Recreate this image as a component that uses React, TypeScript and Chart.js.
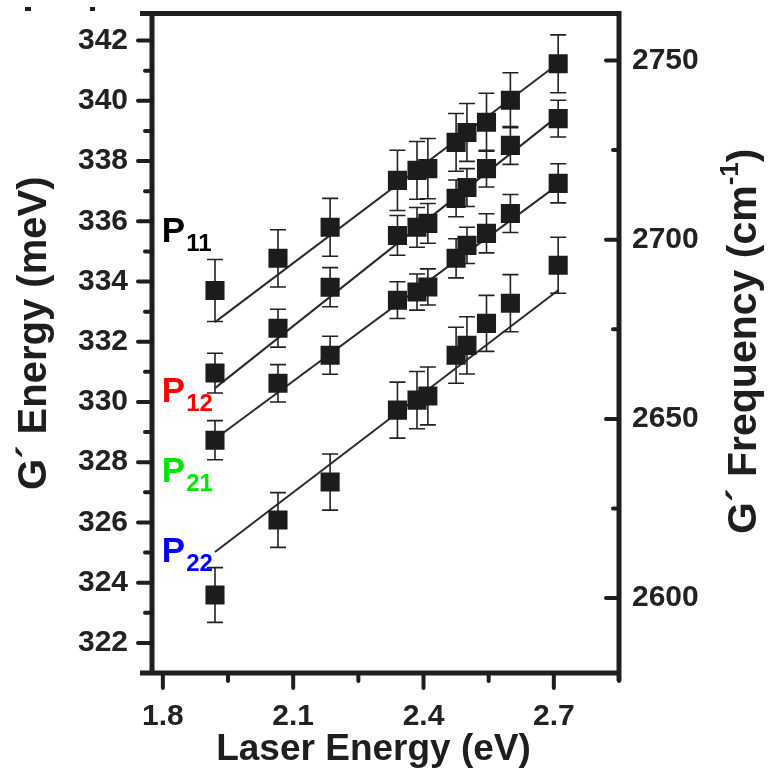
import { useEffect, useRef } from 'react';
import { Chart, registerables } from 'chart.js';

Chart.register(...registerables);

// ---- data ----
const laserEnergy = [1.92, 2.065, 2.185, 2.34, 2.385, 2.41, 2.475, 2.5, 2.545, 2.6, 2.71];

const p11 = [333.7, 334.77, 335.8, 337.36, 337.69, 337.75, 338.62, 338.95, 339.29, 340.02, 341.23];
const p11Err = [1.03, 0.95, 0.96, 1.0, 0.96, 1.0, 0.96, 0.96, 0.96, 0.91, 0.96];
const p12 = [330.96, 332.45, 333.81, 335.53, 335.8, 335.93, 336.76, 337.12, 337.75, 338.52, 339.41];
const p12Err = [0.66, 0.63, 0.65, 0.66, 0.66, 0.66, 0.61, 0.63, 0.61, 0.63, 0.61];
const p21 = [328.73, 330.62, 331.55, 333.38, 333.65, 333.82, 334.77, 335.2, 335.6, 336.26, 337.26];
const p21Err = [0.65, 0.62, 0.63, 0.61, 0.6, 0.6, 0.65, 0.6, 0.65, 0.63, 0.65];
const p22 = [323.59, 326.08, 327.34, 329.73, 330.06, 330.2, 331.55, 331.88, 332.61, 333.28, 334.54];
const p22Err = [0.91, 0.91, 0.93, 0.93, 0.95, 0.96, 0.93, 0.95, 0.93, 0.95, 0.93];

const fitX = [1.92, 2.71];
const fitP11 = [332.65, 341.25];
const fitP12 = [330.46, 339.5];
const fitP21 = [328.77, 337.2];
const fitP22 = [325.02, 333.71];

const xTicks = [1.8, 2.1, 2.4, 2.7];
const xMinorTicks = [1.95, 2.25, 2.55, 2.85];
const yTicks = [322, 324, 326, 328, 330, 332, 334, 336, 338, 340, 342];
const yMinorTicks = [323, 325, 327, 329, 331, 333, 335, 337, 339, 341];
const freqTicks = [2600, 2650, 2700, 2750];
const freqMinorTicks = [2625, 2675, 2725];

const seriesSubscripts = ['11', '12', '21', '22'];
const seriesLabelColors = ['#000000', '#ff0000', '#00e600', '#0000ff'];
const seriesLabelY = [335.3, 330.0, 327.34, 324.69];
const seriesLabelX = 1.8;

const xTitle = 'Laser Energy (eV)';
const yTitle = 'G\u00B4 Energy (meV)';
const y2TitleMain = 'G\u00B4 Frequency (cm';
const y2TitleSup = '-1';
const y2TitleEnd = ')';

const allSeries = [p11, p12, p21, p22];
const allErrors = [p11Err, p12Err, p21Err, p22Err];
const allFits = [fitP11, fitP12, fitP21, fitP22];

const FONT = "'Liberation Sans', Arial, Helvetica, sans-serif";
const INK = '#1e1e1e';

const decorPlugin = {
  id: 'decor',
  beforeDatasetsDraw(chart: any) {
    const ctx = chart.ctx;
    const xs = chart.scales.x;
    const ys = chart.scales.y;
    ctx.save();
    ctx.strokeStyle = '#222';
    ctx.lineWidth = 1.6;
    allSeries.forEach((s, i) => {
      s.forEach((v, j) => {
        const px = xs.getPixelForValue(laserEnergy[j]);
        const e = allErrors[i][j];
        const top = ys.getPixelForValue(v + e);
        const bot = ys.getPixelForValue(v - e);
        ctx.beginPath();
        ctx.moveTo(px, top);
        ctx.lineTo(px, bot);
        ctx.moveTo(px - 8, top);
        ctx.lineTo(px + 8, top);
        ctx.moveTo(px - 8, bot);
        ctx.lineTo(px + 8, bot);
        ctx.stroke();
      });
    });
    ctx.restore();
  },
  afterDraw(chart: any) {
    const ctx = chart.ctx;
    const { left, right, top, bottom } = chart.chartArea;
    const xs = chart.scales.x;
    const ys = chart.scales.y;
    const y2 = chart.scales.y2;
    ctx.save();
    ctx.strokeStyle = INK;
    ctx.fillStyle = INK;
    // frame
    ctx.lineWidth = 5;
    ctx.lineCap = 'butt';
    ctx.beginPath();
    ctx.moveTo(left - 12, top);
    ctx.lineTo(right + 2.5, top);
    ctx.moveTo(left, top - 2.5);
    ctx.lineTo(left, bottom + 2.5);
    ctx.moveTo(left - 12, bottom);
    ctx.lineTo(right + 2.5, bottom);
    ctx.moveTo(right, top - 2.5);
    ctx.lineTo(right, bottom + 8);
    ctx.stroke();
    // ticks
    ctx.lineWidth = 4;
    ctx.lineCap = 'round';
    ctx.beginPath();
    yTicks.forEach((v) => {
      const p = ys.getPixelForValue(v);
      ctx.moveTo(left, p);
      ctx.lineTo(left - 14, p);
    });
    yMinorTicks.forEach((v) => {
      const p = ys.getPixelForValue(v);
      ctx.moveTo(left, p);
      ctx.lineTo(left - 7, p);
    });
    xTicks.forEach((v) => {
      const p = xs.getPixelForValue(v);
      ctx.moveTo(p, bottom);
      ctx.lineTo(p, bottom + 15);
    });
    xMinorTicks.forEach((v) => {
      const p = xs.getPixelForValue(v);
      ctx.moveTo(p, bottom);
      ctx.lineTo(p, bottom + 8);
    });
    freqTicks.forEach((v) => {
      const p = y2.getPixelForValue(v);
      ctx.moveTo(right, p);
      ctx.lineTo(right - 13, p);
    });
    freqMinorTicks.forEach((v) => {
      const p = y2.getPixelForValue(v);
      ctx.moveTo(right, p);
      ctx.lineTo(right - 6, p);
    });
    ctx.stroke();

    // small marks in top-left corner
    ctx.fillRect(25, 7, 6, 4);
    ctx.fillRect(90, 7, 5, 4);

    // series labels
    seriesSubscripts.forEach((sub, i) => {
      const x = xs.getPixelForValue(seriesLabelX) - 1;
      const y = ys.getPixelForValue(seriesLabelY[i]);
      ctx.fillStyle = seriesLabelColors[i];
      ctx.textAlign = 'left';
      ctx.textBaseline = 'alphabetic';
      ctx.font = `bold 35px ${FONT}`;
      ctx.fillText('P', x, y);
      const w = ctx.measureText('P').width;
      ctx.font = `bold 24px ${FONT}`;
      ctx.fillText(sub, x + w + 1, y + 9);
    });

    // titles
    ctx.fillStyle = INK;
    ctx.textBaseline = 'middle';
    ctx.textAlign = 'center';
    ctx.font = `bold 37px ${FONT}`;
    ctx.fillText(xTitle, (left + right) / 2 - 12, 750);

    ctx.save();
    ctx.translate(35, (top + bottom) / 2 - 10);
    ctx.rotate(-Math.PI / 2);
    ctx.font = `bold 40px ${FONT}`;
    ctx.fillText(yTitle, 0, 0);
    ctx.restore();

    ctx.save();
    ctx.translate(745, (top + bottom) / 2 - 2);
    ctx.rotate(-Math.PI / 2);
    const mainFont = `bold 41px ${FONT}`;
    const supFont = `bold 26px ${FONT}`;
    ctx.font = mainFont;
    const w1 = ctx.measureText(y2TitleMain).width;
    const w3 = ctx.measureText(y2TitleEnd).width;
    ctx.font = supFont;
    const w2 = ctx.measureText(y2TitleSup).width;
    const total = w1 + w2 + w3;
    let cx = -total / 2;
    ctx.textAlign = 'left';
    ctx.font = mainFont;
    ctx.fillText(y2TitleMain, cx, 0);
    cx += w1;
    ctx.font = supFont;
    ctx.fillText(y2TitleSup, cx, -14);
    cx += w2;
    ctx.font = mainFont;
    ctx.fillText(y2TitleEnd, cx, 0);
    ctx.restore();

    ctx.restore();
  },
};

export default function App() {
  const ref = useRef<HTMLCanvasElement | null>(null);
  useEffect(() => {
    document.body.style.margin = '0';
    const canvas = ref.current;
    if (!canvas) return;
    const pointSets = allSeries.map((s) => ({
      data: s.map((v, j) => ({ x: laserEnergy[j], y: v })),
      pointStyle: 'rect',
      pointRadius: 13.5,
      pointBorderWidth: 0,
      backgroundColor: '#1c1c1c',
      borderColor: '#1c1c1c',
      showLine: false,
      yAxisID: 'y',
    }));
    const fitSets = allFits.map((f) => ({
      data: f.map((v, j) => ({ x: fitX[j], y: v })),
      showLine: true,
      pointRadius: 0,
      borderColor: '#2a2a2a',
      borderWidth: 2,
      yAxisID: 'y',
    }));
    const tickFont = { family: FONT, size: 30, weight: 'bold' as const };
    const chart = new Chart(canvas, {
      type: 'scatter',
      data: { datasets: [...pointSets, ...fitSets] as any },
      options: {
        animation: false,
        responsive: false,
        devicePixelRatio: 1,
        events: [],
        layout: { padding: { top: 13, left: 0, right: 0, bottom: 0 } },
        plugins: { legend: { display: false }, tooltip: { enabled: false } },
        scales: {
          x: {
            type: 'linear',
            position: 'bottom',
            min: 1.775,
            max: 2.85,
            grid: { display: false, drawTicks: false },
            border: { display: false },
            afterBuildTicks: (s: any) => {
              s.ticks = xTicks.map((v) => ({ value: v }));
            },
            afterFit: (s: any) => {
              s.height = 100;
              s.paddingLeft = 0;
              s.paddingRight = 0;
            },
            ticks: {
              font: tickFont,
              color: '#222',
              padding: 26,
              maxRotation: 0,
              callback: (v: any) => Number(v).toFixed(1),
            },
          },
          y: {
            type: 'linear',
            position: 'left',
            min: 321.0,
            max: 342.9,
            grid: { display: false, drawTicks: false },
            border: { display: false },
            afterBuildTicks: (s: any) => {
              s.ticks = yTicks.map((v) => ({ value: v }));
            },
            afterFit: (s: any) => {
              s.width = 152;
              s.paddingTop = 0;
              s.paddingBottom = 0;
            },
            ticks: {
              font: tickFont,
              color: '#222',
              padding: 24,
              callback: (v: any) => String(v),
            },
          },
          y2: {
            type: 'linear',
            position: 'right',
            min: 2579.1,
            max: 2763.1,
            grid: { display: false, drawTicks: false },
            border: { display: false },
            afterBuildTicks: (s: any) => {
              s.ticks = freqTicks.map((v) => ({ value: v }));
            },
            afterFit: (s: any) => {
              s.width = 150;
              s.paddingTop = 0;
              s.paddingBottom = 0;
            },
            ticks: {
              font: tickFont,
              color: '#222',
              padding: 13,
              callback: (v: any) => String(v),
            },
          },
        },
      },
      plugins: [decorPlugin],
    });
    return () => chart.destroy();
  }, []);
  return (
    <div style={{ position: 'absolute', left: 0, top: 0, width: 769, height: 773 }}>
      <canvas ref={ref} width={769} height={773} style={{ width: 769, height: 773, display: 'block' }} />
    </div>
  );
}
